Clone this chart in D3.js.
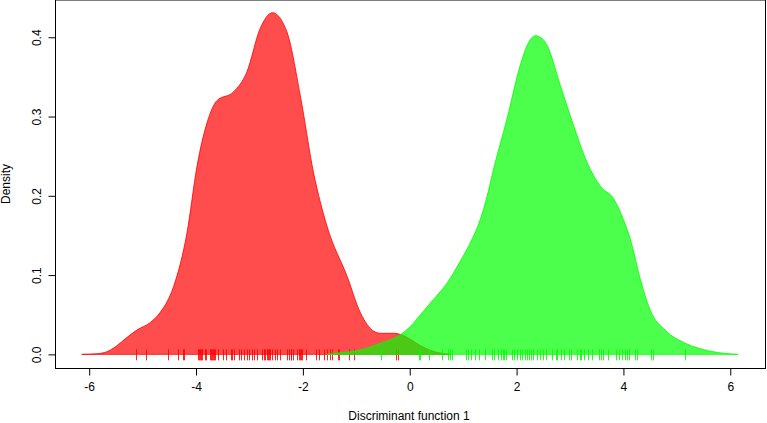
<!DOCTYPE html>
<html><head><meta charset="utf-8">
<script src="https://cdn.jsdelivr.net/npm/d3@7"></script>
<style>html,body{margin:0;padding:0;background:#fff;}svg{display:block;}text{font-family:"Liberation Sans",Arial,sans-serif;}</style>
</head><body>
<svg id="c" width="767" height="423"></svg>
<script>
const xTicks = [-6, -4, -2, 0, 2, 4, 6];
const yTicks = [0.0, 0.1, 0.2, 0.3, 0.4];
const xTitle = "Discriminant function 1";
const yTitle = "Density";

const redX = [-6.14,-5.85,-5.67,-5.5,-5.29,-5.1,-4.86,-4.67,-4.42,-4.17,-3.98,-3.79,-3.61,-3.30,-3.05,-2.80,-2.57,-2.30,-2.05,-1.80,-1.55,-1.17,-0.92,-0.67,-0.55,-0.30,-0.17,0.01,0.20,0.39,0.58,0.76];
const redY = [0,0.0008,0.0033,0.010,0.0215,0.031,0.0400,0.053,0.0857,0.153,0.238,0.293,0.320,0.331,0.356,0.411,0.431,0.407,0.327,0.229,0.162,0.098,0.052,0.029,0.0266,0.0266,0.025,0.019,0.011,0.005,0.0015,0];

const greenX = [-1.55,-1.30,-0.93,-0.55,-0.17,0.01,0.20,0.44,0.70,0.95,1.15,1.32,1.45,1.57,1.82,2.07,2.20,2.35,2.50,2.57,2.82,3.07,3.32,3.57,3.82,4.00,4.13,4.32,4.50,4.79,5.16,5.63,6.15];
const greenY = [0,0.002,0.0055,0.014,0.025,0.035,0.050,0.069,0.090,0.118,0.143,0.170,0.200,0.234,0.297,0.365,0.390,0.402,0.397,0.390,0.339,0.288,0.242,0.212,0.196,0.170,0.145,0.094,0.056,0.030,0.014,0.004,0];

const redRug = [-5.12,-4.93,-4.53,-4.34,-4.25,-4.23,-3.97,-3.95,-3.93,-3.91,-3.89,-3.84,-3.81,-3.74,-3.72,-3.70,-3.69,-3.67,-3.65,-3.58,-3.50,-3.44,-3.35,-3.32,-3.29,-3.20,-3.16,-3.10,-3.05,-3.00,-2.96,-2.92,-2.86,-2.76,-2.73,-2.71,-2.68,-2.65,-2.64,-2.61,-2.58,-2.53,-2.49,-2.43,-2.29,-2.26,-2.23,-2.22,-2.19,-2.11,-2.08,-2.06,-2.04,-2.02,-1.94,-1.75,-1.69,-1.60,-1.54,-1.49,-1.45,-1.34,-1.32,-1.13,-1.05,-0.25,-0.22];
const greenRug = [-0.53,0.17,0.20,0.37,0.61,0.72,0.76,0.79,1.05,1.10,1.15,1.23,1.29,1.40,1.54,1.57,1.65,1.71,1.74,1.77,1.81,1.92,1.96,2.00,2.06,2.10,2.15,2.20,2.23,2.27,2.31,2.39,2.43,2.50,2.56,2.67,2.73,2.76,2.84,2.88,2.98,3.02,3.13,3.18,3.21,3.27,3.33,3.42,3.54,3.58,3.62,3.71,3.87,3.91,3.98,4.03,4.07,4.10,4.21,4.26,4.52,4.56,5.15];

const svg = d3.select("#c");
const L = 55, R = 765, T = 0, B = 368;
const x = d3.scaleLinear().domain([-6.64, 6.65]).range([L, R]);
const y = d3.scaleLinear().domain([-0.0172, 0.447]).range([B, T]);

svg.append("rect").attr("width",767).attr("height",423).attr("fill","#fff");

function drawDensity(xs, ys, fill, stroke) {
  const pts = xs.map((v,i)=>[v, ys[i]]);
  const area = d3.area().x(d=>x(d[0])).y0(y(0)).y1(d=>y(d[1])).curve(d3.curveMonotoneX);
  svg.append("path").datum(pts).attr("d", area)
    .attr("fill", fill).attr("stroke", stroke).attr("stroke-width", 1);
}
function drawRug(vals, color) {
  svg.append("g").selectAll("line").data(vals).join("line")
    .attr("x1", d=>Math.round(x(d))+0.5).attr("x2", d=>Math.round(x(d))+0.5)
    .attr("y1", y(0)-5).attr("y2", y(0)+6)
    .attr("stroke", color).attr("stroke-width", 1);
}

drawDensity(redX, redY, "rgba(255,0,0,0.7)", "rgba(255,0,0,0.8)");
drawRug(redRug, "rgba(255,0,0,0.85)");
drawDensity(greenX, greenY, "rgba(0,255,0,0.7)", "rgba(0,255,0,0.8)");
drawRug(greenRug, "rgba(0,255,0,0.85)");

// box
svg.append("rect").attr("x", L+0.5).attr("y", T).attr("width", R-L).attr("height", B-T+0.5)
  .attr("fill","none").attr("stroke","#000").attr("stroke-width",1);

// x axis
const xa = svg.append("g").attr("transform", `translate(0,${B+0.5})`)
  .call(d3.axisBottom(x).tickValues(xTicks).tickSize(7).tickSizeOuter(0).tickFormat(d=>String(d)).tickPadding(7));
xa.select(".domain").remove();
xa.selectAll("text").attr("font-size", 12).attr("fill","#000").attr("font-family","Liberation Sans, Arial, sans-serif");
xa.selectAll("line").attr("stroke","#000");

// y axis
const ya = svg.append("g").attr("transform", `translate(${L+0.5},0)`)
  .call(d3.axisLeft(y).tickValues(yTicks).tickSize(7).tickSizeOuter(0).tickFormat(d3.format(".1f")));
ya.select(".domain").remove();
ya.selectAll("line").attr("stroke","#000");
ya.selectAll("text").attr("font-size", 12).attr("fill","#000").attr("font-family","Liberation Sans, Arial, sans-serif")
  .attr("text-anchor","middle").attr("dy", null).attr("x", null)
  .attr("transform", function(d){ return `translate(-19,0) rotate(-90)`; })
  .attr("dy","0.35em");

svg.append("text").attr("x", 409).attr("y", 416).attr("dy","0.35em").attr("text-anchor","middle")
  .attr("font-size",12).text(xTitle);
svg.append("text").attr("transform", `translate(6,${(T+B)/2}) rotate(-90)`).attr("dy","0.35em").attr("text-anchor","middle")
  .attr("font-size",12).text(yTitle);
</script>
</body></html>
